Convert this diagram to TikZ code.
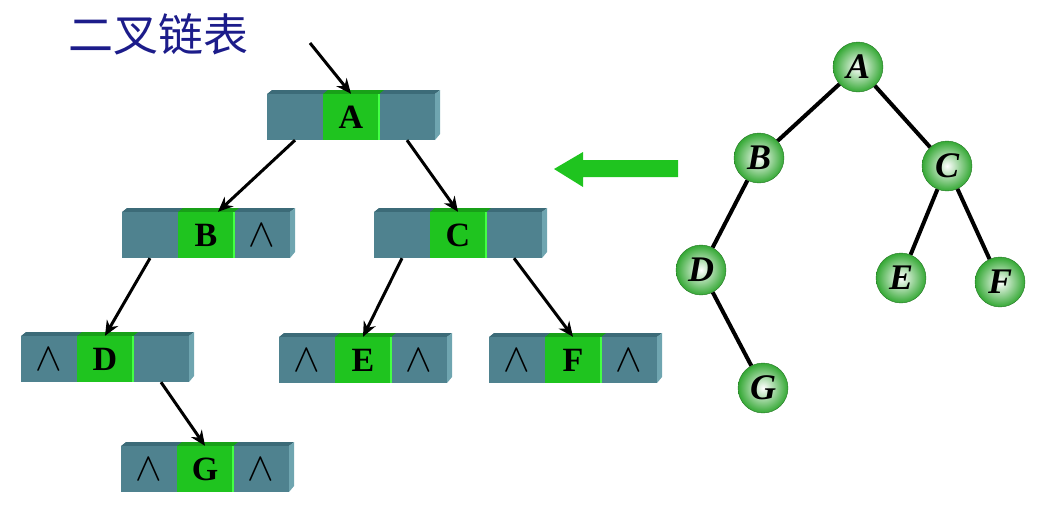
\documentclass[tikz,border=0pt]{standalone}
\usepackage{graphicx}
\usepackage{fontspec}
\setmainfont{Liberation Serif}
\newfontfamily\cjk{Noto Sans CJK SC}
\usetikzlibrary{arrows.meta}

\definecolor{boxteal}{HTML}{4F828F}
\definecolor{boxtop}{HTML}{3C6B78}
\definecolor{boxside}{HTML}{6FA5B0}
\definecolor{keygreen}{HTML}{1FC41F}
\definecolor{keytop}{HTML}{18A018}
\definecolor{keyedge}{HTML}{44FF44}
\definecolor{ballgreen}{HTML}{34A834}
\definecolor{titleblue}{HTML}{1C1C8A}

\newcommand{\nullmark}{\scalebox{1.6}{\fontsize{24.88}{30}\selectfont$\wedge$}}

\begin{document}
\begin{tikzpicture}[x=1pt,y=-1pt,
    cell/.style={minimum width=56pt,minimum height=46pt,inner sep=0pt,fill=boxteal},
    key/.style={cell,fill=keygreen,font=\fontsize{34}{34}\selectfont\bfseries},
    ball/.style={circle,minimum size=50pt,inner sep=0pt,draw=ballgreen!70!black,
      inner color=white,outer color=ballgreen,
      font=\fontsize{36}{36}\selectfont\bfseries\itshape},
    link/.style={-{Stealth[length=15pt,width=13pt]},line width=3pt},
    branch/.style={line width=4pt}]
    \useasboundingbox (0,0) rectangle (1056,520);

    % Title
    \node (title) [text=titleblue,font=\fontsize{45}{45}\selectfont\cjk] at (158,34) {二叉链表};

    % Linked nodes
    \foreach \n/\x/\y/\l/\r in {A/267/90/{}/{}, B/122/208/{}/\nullmark, C/374/208/{}/{},
      D/21/332/\nullmark/{}, E/279/333/\nullmark/\nullmark, F/489/333/\nullmark/\nullmark,
      G/121/442/\nullmark/\nullmark}
    {
      \fill [boxtop] (\x,\y+4) -- (\x+5,\y) -- (\x+173,\y) -- (\x+168,\y+4) -- cycle;
      \fill [keytop] (\x+56,\y+4) -- (\x+61,\y) -- (\x+117,\y) -- (\x+112,\y+4) -- cycle;
      \fill [boxside] (\x+168,\y+4) -- (\x+173,\y) -- (\x+173,\y+44) -- (\x+168,\y+50) -- cycle;
      \node (\n-l) [cell] at (\x+28,\y+27) {\l};
      \node (\n) [key] at (\x+84,\y+27) {\n};
      \node (\n-r) [cell] at (\x+140,\y+27) {\r};
      \draw [keyedge,line width=2.5pt] (\n.north east) -- (\n.south east);
    };

    % Pointers
    \coordinate (root) at (310,43);
    \draw [link] (root) -- (A.north);
    \draw [link] (A-l.south) -- ([xshift=12pt]B.north);
    \draw [link] (A-r.south) -- (C.north);
    \draw [link] (B-l.south) -- (D.north);
    \draw [link] (C-l.south) -- (E.north);
    \draw [link] (C-r.south) -- (F.north);
    \draw [link] (D-r.south) -- (G.north);

    % Big arrow
    \fill [keygreen] (678,160) -- (583,160) -- (583,152) -- (554,169)
        -- (583,187) -- (583,177) -- (678,177) -- cycle;

    % Binary tree
    \node (tA) [ball] at (858,67) {A};
    \node (tB) [ball] at (759,158) {B};
    \node (tC) [ball] at (947,166) {C};
    \node (tD) [ball] at (701,270) {D};
    \node (tE) [ball] at (901,278) {E};
    \node (tF) [ball] at (1000,282) {F};
    \node (tG) [ball] at (763,388) {G};
    \draw [branch] (tA) -- (tB);
    \draw [branch] (tA) -- (tC);
    \draw [branch] (tB) -- (tD);
    \draw [branch] (tD) -- (tG);
    \draw [branch] (tC) -- (tE);
    \draw [branch] (tC) -- (tF);

\end{tikzpicture}
\end{document}
